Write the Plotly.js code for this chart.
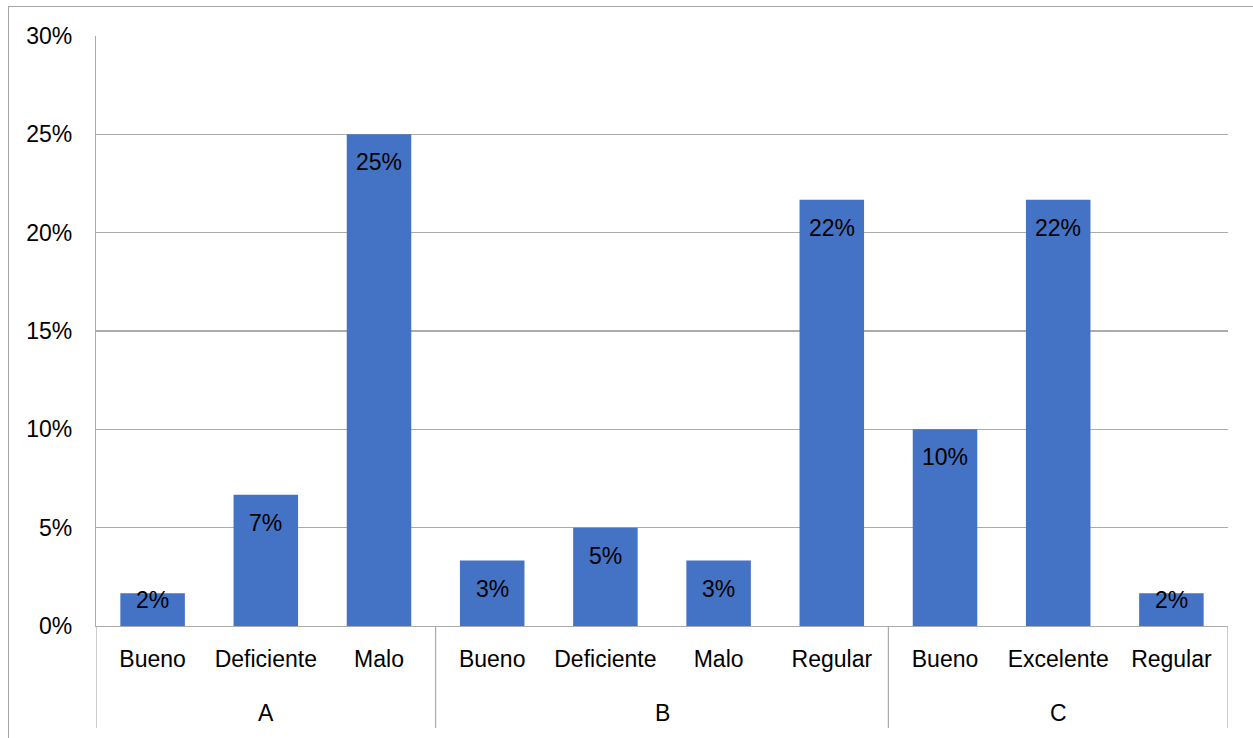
<!DOCTYPE html>
<html>
<head>
<meta charset="utf-8">
<script src="https://cdn.plot.ly/plotly-3.0.1.min.js"></script>
<style>
  html, body { margin: 0; padding: 0; background: #fff; overflow: hidden; }
  #wrap { position: relative; width: 1253px; height: 738px; }
  #chart { position: absolute; left: 0; top: 0; width: 1253px; height: 738px; }
  #frame { position: absolute; left: 8px; top: 6px; width: 1300px; height: 800px;
           border-left: 1px solid #a6a6a6; border-top: 1px solid #a6a6a6; pointer-events: none; }
</style>
</head>
<body>
<div id="wrap">
  <div id="chart"></div>
  <div id="frame"></div>
</div>
<script>
// Groups and the ratings inside each group
const groups = ['A', 'A', 'A', 'B', 'B', 'B', 'B', 'C', 'C', 'C'];
const ratings = ['Bueno', 'Deficiente', 'Malo',
                 'Bueno', 'Deficiente', 'Malo', 'Regular',
                 'Bueno', 'Excelente', 'Regular'];
// Share of answers for each rating
const shares = [0.0167, 0.0667, 0.25,
                0.0333, 0.05, 0.0333, 0.2167,
                0.10, 0.2167, 0.0167];
const yTicks = [0, 0.05, 0.10, 0.15, 0.20, 0.25, 0.30];
const yMax = 0.30;

const FONT = 'Liberation Sans, Arial, sans-serif';
const FSIZE = 23;
const GRID = '#ababab';

const W = 1253, H = 738;
const M = { l: 96, r: 25, t: 36, b: 112 };
const plotH = H - M.t - M.b;

// one slot per bar along the x axis
const pos = ratings.map((_, i) => i);

const trace = {
  type: 'bar',
  x: pos,
  y: shares,
  marker: { color: '#4472c4' },
  hoverinfo: 'skip'
};

// group spans: first/last slot of each group
const spans = [];
groups.forEach((g, i) => {
  const last = spans[spans.length - 1];
  if (last && last.name === g) last.end = i;
  else spans.push({ name: g, start: i, end: i });
});

// divider lines at group edges, running through both label rows
const edges = [spans[0].start - 0.5].concat(spans.map(s => s.end + 0.5));
const shapes = edges.map(x => ({
  type: 'line', xref: 'x', yref: 'paper',
  x0: x, x1: x, y0: 0, y1: -102 / plotH,
  line: { color: GRID, width: 1.2 }
}));

// value labels sitting inside the top of each bar
const fmt = v => Math.round(v * 100) + '%';
const valueLabels = shares.map((v, i) => {
  const barPx = v / yMax * plotH;
  return {
    x: pos[i], y: v, xref: 'x', yref: 'y',
    text: fmt(v), showarrow: false,
    yanchor: 'middle', yshift: -Math.min(28, barPx - 26),
    font: { family: FONT, size: FSIZE, color: '#000' }
  };
});

// group names on the second label row
const groupLabels = spans.map(s => ({
  x: (s.start + s.end) / 2, y: 0, xref: 'x', yref: 'paper',
  text: s.name, showarrow: false,
  yanchor: 'middle', yshift: -87,
  font: { family: FONT, size: FSIZE, color: '#000' }
}));

const layout = {
  width: W, height: H,
  margin: M,
  paper_bgcolor: '#fff', plot_bgcolor: '#fff',
  showlegend: false,
  bargap: 0.43,
  font: { family: FONT, size: FSIZE, color: '#000' },
  xaxis: {
    range: [-0.5, ratings.length - 0.5],
    tickvals: pos, ticktext: ratings,
    showline: true, linecolor: GRID, linewidth: 1.2,
    ticks: 'outside', ticklen: 12, tickcolor: 'rgba(0,0,0,0)',
    showgrid: false, zeroline: false,
    tickfont: { family: FONT, size: FSIZE, color: '#000' }
  },
  yaxis: {
    range: [0, yMax],
    tickvals: yTicks,
    tickformat: '.0%',
    showgrid: true, gridcolor: GRID, gridwidth: 1.2,
    zeroline: false,
    showline: true, linecolor: GRID, linewidth: 1.2,
    ticks: 'outside', ticklen: 18, tickcolor: 'rgba(0,0,0,0)',
    tickfont: { family: FONT, size: FSIZE, color: '#000' }
  },
  shapes: shapes,
  annotations: valueLabels.concat(groupLabels)
};

Plotly.newPlot('chart', [trace], layout, { displayModeBar: false, staticPlot: true });
</script>
</body>
</html>
